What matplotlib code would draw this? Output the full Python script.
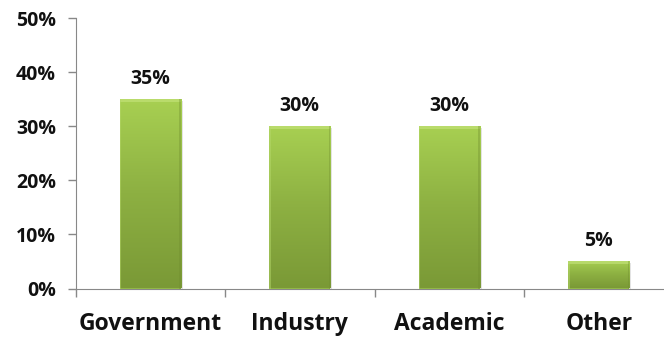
import matplotlib.pyplot as plt
import numpy as np
from matplotlib.colors import LinearSegmentedColormap
from matplotlib.patches import Rectangle

categories = ['Government', 'Industry', 'Academic', 'Other']
shares = [35, 30, 30, 5]
y_ticks = [0, 10, 20, 30, 40, 50]

plt.rcParams['font.family'] = ['Open Sans', 'DejaVu Sans']

fig = plt.figure(figsize=(6.64, 3.37), dpi=100)
# the category axis runs a little past the right edge of the figure
ax = fig.add_axes([75.5 / 664, 1 - 288.5 / 337, 598 / 664, 270.5 / 337])

x = np.arange(len(categories))
width = 0.41
bars = ax.bar(x, shares, width=width, color='#93bb45', edgecolor='none', zorder=2)

# vertical gradient inside each bar, plus a soft shadow on the right/bottom
green = LinearSegmentedColormap.from_list('green', ['#7a9936', '#8db042', '#a8d052'])
grad = np.linspace(0, 1, 256).reshape(-1, 1)
for b in bars:
    x0, w, h = b.get_x(), b.get_width(), b.get_height()
    ax.add_patch(Rectangle((x0 + 0.012, -0.25), w, h, color='#c8c8c8', alpha=0.5, zorder=1, lw=0))
    im = ax.imshow(grad, cmap=green, aspect='auto', origin='lower',
                   extent=(x0, x0 + w, 0, h), zorder=3)
    im.set_clip_path(b)
    # bevel edges
    ax.add_patch(Rectangle((x0, h - 0.5), w, 0.5, color='#c6e47e', alpha=0.6, zorder=4, lw=0))
    ax.add_patch(Rectangle((x0 + w - 0.012, 0), 0.012, h, color='#6f8c2e', alpha=0.35, zorder=4, lw=0))
    ax.add_patch(Rectangle((x0, 0), 0.012, h, color='#b5d86a', alpha=0.5, zorder=4, lw=0))
    ax.text(x0 + w / 2, h + 1.9, f'{h:.0f}%', ha='center', va='bottom',
            fontsize=14, fontweight='bold', color='#111111', zorder=5)

ax.set_xlim(-0.5, len(categories) - 0.5)
ax.set_ylim(0, 50)
ax.set_yticks(y_ticks)
ax.set_yticklabels([f'{t}%' for t in y_ticks], fontsize=14, fontweight='bold', color='#111111')

# category labels at bar centres, tick marks at the boundaries
ax.set_xticks(np.arange(len(categories) + 1) - 0.5)
ax.set_xticklabels([])
ax.set_xticks(x, minor=True)
ax.set_xticklabels(categories, minor=True, fontsize=16.5, fontweight='bold', color='#111111')
ax.tick_params(axis='x', which='minor', length=0, pad=17)
ax.tick_params(axis='x', which='major', length=6, color='#888888', width=1)
ax.tick_params(axis='y', length=6, color='#888888', width=1, pad=8)

for side in ['top', 'right']:
    ax.spines[side].set_visible(False)
for side in ['left', 'bottom']:
    ax.spines[side].set_color('#888888')

fig.savefig('out.png', dpi=100)
